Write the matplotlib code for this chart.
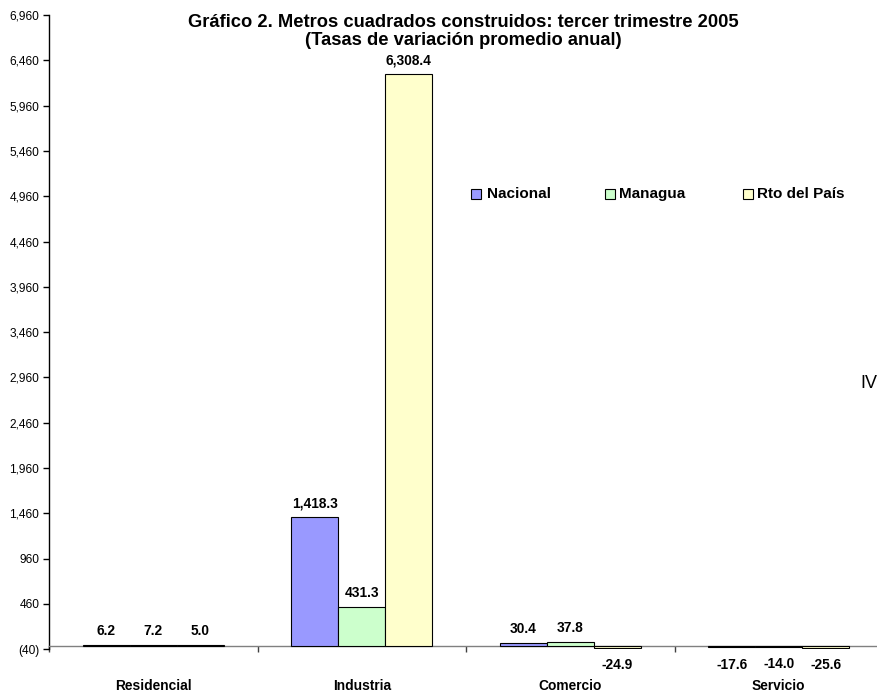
import matplotlib
matplotlib.use("Agg")
import matplotlib.pyplot as plt
from matplotlib.patches import Rectangle
import numpy as np

plt.rcParams['font.family'] = ['Liberation Sans', 'DejaVu Sans']

categories = ["Residencial", "Industria", "Comercio", "Servicio"]
series_names = ["Nacional", "Managua", "Rto del País"]
nacional = [6.2, 1418.3, 30.4, -17.6]
managua = [7.2, 431.3, 37.8, -14.0]
rto_pais = [5.0, 6308.4, -24.9, -25.6]
colors = ["#9999FF", "#CCFFCC", "#FFFFCC"]
title = "Gráfico 2. Metros cuadrados construidos: tercer trimestre 2005\n(Tasas de variación promedio anual)"
y_ticks = list(range(-40, 6961, 500))

W, H = 878, 694
fig = plt.figure(figsize=(W / 100, H / 100), dpi=100)
left_px, right_px = 49, 883
top_px, bot_px = 15, 649.3
ax = fig.add_axes([left_px / W, 1 - bot_px / H, (right_px - left_px) / W, (bot_px - top_px) / H])

series = [nacional, managua, rto_pais]
bw = 0.225
x = np.arange(len(categories))
for j, vals in enumerate(series):
    xs = x + (j - 1) * bw
    ax.bar(xs, vals, width=bw, color=colors[j], edgecolor='black', linewidth=0.8, zorder=3)
    for xi, v in zip(xs, vals):
        if v >= 0:
            ax.annotate(f"{v:,.1f}", (xi, v), xytext=(0, 5), textcoords='offset points',
                        ha='center', va='bottom', fontsize=9.9, fontweight='bold')
        else:
            ax.annotate(f"{v:,.1f}", (xi, v), xytext=(0, -7.5), textcoords='offset points',
                        ha='center', va='top', fontsize=9.9, fontweight='bold')

ax.set_xlim(-0.5, 3.5)
ax.set_ylim(-40, 6960)
ax.set_yticks(y_ticks)
ax.set_yticklabels([f"({-t})" if t < 0 else f"{t:,}" for t in y_ticks], fontsize=8.6)
ax.tick_params(axis='y', direction='out', length=4, width=1, pad=3)

ax.spines['top'].set_visible(False)
ax.spines['right'].set_visible(False)
ax.spines['left'].set_linewidth(1)
ax.spines['bottom'].set_position(('data', 0))
ax.spines['bottom'].set_color('#808080')
ax.spines['bottom'].set_linewidth(1)

ax.set_xticks(np.arange(-0.5, 3.6, 1.0))
ax.set_xticklabels([])
ax.tick_params(axis='x', which='major', direction='out', length=4.5, width=1, color='#404040')
ax.set_xticks(x, minor=True)
ax.set_xticklabels(categories, minor=True, fontsize=9.9, fontweight='bold')
ax.tick_params(axis='x', which='minor', length=0, pad=24)

fig.text(463 / W, 1 - 14 / H, title, ha='center', va='top', fontsize=13.2,
         fontweight='bold', linespacing=1.1)

# legend
sq_x = [471, 605, 743]
txt_x = [487, 619, 757]
for j in range(3):
    fig.patches.append(Rectangle((sq_x[j] / W, 1 - 199 / H), 10 / W, 10 / H,
                                 transform=fig.transFigure, facecolor=colors[j],
                                 edgecolor='black', linewidth=0.8))
    fig.text(txt_x[j] / W, 1 - 194 / H, series_names[j], ha='left', va='center',
             fontsize=11, fontweight='bold')

fig.text(860 / W, 1 - 383 / H, "IV", ha='left', va='center', fontsize=13)

fig.savefig("out.png", dpi=100)
